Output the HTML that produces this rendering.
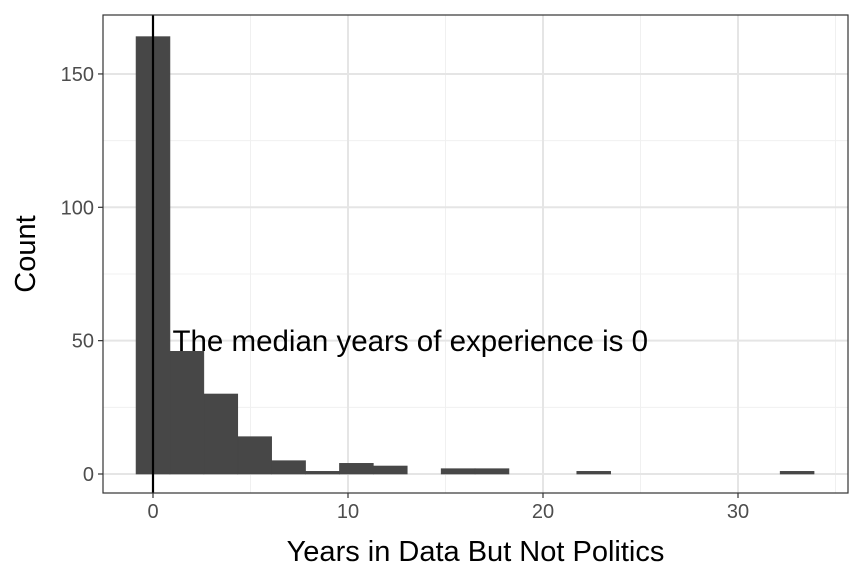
<!DOCTYPE html>
<html><head><meta charset="utf-8"><style>
body{margin:0;background:#fff}
svg text{font-family:"Liberation Sans",Arial,sans-serif}
</style></head><body>
<svg id="chart" width="864" height="576" xmlns="http://www.w3.org/2000/svg">
<rect width="864" height="576" fill="#fff"/>
<g id="grid"></g><g id="bars"></g><g id="axes"></g>
</svg>
<script>
const binCounts=[164,46,30,14,5,1,4,3,0,2,2,0,0,1,0,0,0,0,0,1];
const binWidth=1.7385;
const xTicks=[0,10,20,30];
const yTicks=[0,50,100,150];
const medianValue=0;
const L=103,R=848,T=15,B=493;
const X=v=>153+v*19.5, Y=v=>474-v*2.667;
const NS="http://www.w3.org/2000/svg";
function mk(tag,attrs,parent,txt){const e=document.createElementNS(NS,tag);for(const k in attrs)e.setAttribute(k,attrs[k]);if(txt!==undefined)e.textContent=txt;document.getElementById(parent).appendChild(e);return e;}
for(let i=0;i<xTicks.length;i++){const v=xTicks[i]+5;if(X(v)<R){const l=mk('line',{x1:X(v),x2:X(v),y1:T,y2:B,stroke:'#f0f0f0','stroke-width':1},'grid');

}}
for(let i=0;i<yTicks.length;i++){const v=yTicks[i]+25;if(Y(v)>T){const l=mk('line',{x1:L,x2:R,y1:Y(v),y2:Y(v),stroke:'#f0f0f0','stroke-width':1},'grid');

}}
xTicks.forEach(v=>{const l=mk('line',{x1:X(v),x2:X(v),y1:T,y2:B,stroke:'#e5e5e5','stroke-width':2},'grid');

});
yTicks.forEach(v=>{const l=mk('line',{x1:L,x2:R,y1:Y(v),y2:Y(v),stroke:'#e5e5e5','stroke-width':2},'grid');

});
binCounts.forEach((c,i)=>{if(c<=0)return;const x0=X((i-0.5)*binWidth),x1=X((i+0.5)*binWidth);
const r=mk('rect',{x:x0,y:Y(c),width:x1-x0,height:Y(0)-Y(c),fill:'#474747',stroke:'#474747','stroke-width':0.6},'bars');

});
const ml=mk('line',{x1:X(medianValue),x2:X(medianValue),y1:T,y2:B,stroke:'#000','stroke-width':2.2},'axes');


const ann=mk('text',{x:X(1),y:Y(50)+10.5,'font-size':29.5,fill:'#000'},'axes','The median years of experience is 0');


const fr=mk('rect',{x:L,y:T,width:R-L,height:B-T,fill:'none',stroke:'#333','stroke-width':1.2},'axes');


xTicks.forEach(v=>{const t=mk('line',{x1:X(v),x2:X(v),y1:B,y2:B+5,stroke:'#333','stroke-width':1.2},'axes');


const s=mk('text',{x:X(v),y:B+25,'font-size':20,fill:'#4d4d4d','text-anchor':'middle'},'axes',String(v));

});
yTicks.forEach(v=>{const t=mk('line',{x1:L-5,x2:L,y1:Y(v),y2:Y(v),stroke:'#333','stroke-width':1.2},'axes');


const s=mk('text',{x:L-9,y:Y(v)+7,'font-size':20,fill:'#4d4d4d','text-anchor':'end'},'axes',String(v));

});
const xt=mk('text',{x:(L+R)/2,y:561,'font-size':29,fill:'#000','text-anchor':'middle'},'axes','Years in Data But Not Politics');


const yt=mk('text',{x:0,y:0,'font-size':29,fill:'#000','text-anchor':'middle',transform:`translate(35,${(T+B)/2}) rotate(-90)`},'axes','Count');


</script>
</body></html>
